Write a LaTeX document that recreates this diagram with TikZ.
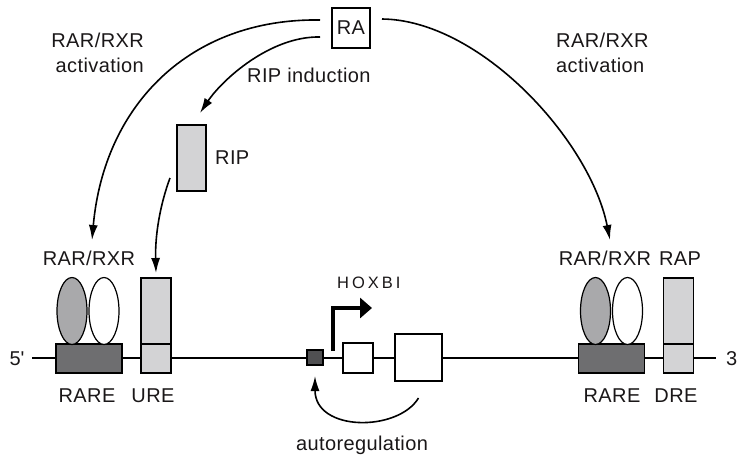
\documentclass[tikz,border=0pt]{standalone}
\usepackage{fontspec}
\setmainfont[LetterSpace=2]{Liberation Sans}
\newfontfamily\hoxfont[LetterSpace=18]{Liberation Sans}
\usetikzlibrary{arrows.meta,shapes.geometric}
\definecolor{txtgray}{HTML}{1A1718}
\definecolor{raregray}{HTML}{6E6E70}
\definecolor{rargray}{HTML}{A9A9AB}
\definecolor{sitegray}{HTML}{D3D3D5}
\definecolor{regdark}{HTML}{505052}

\begin{document}
\begin{tikzpicture}[
  x=1pt,y=-1pt,>={Latex[length=15pt,width=9pt]},
  every node/.style={font=\fontsize{20}{25}\selectfont,text=txtgray},
  flow/.style={->,line width=1.6pt},
  dna/.style={line width=2.6pt},
  part/.style={draw,line width=1.2pt,inner sep=0pt,outer sep=0pt},
  rare/.style={part,fill=raregray,minimum width=66pt,minimum height=29pt},
  rar/.style={part,ellipse,fill=rargray,minimum width=30pt,minimum height=67pt},
  rxr/.style={rar,fill=white},
  siteup/.style={part,fill=sitegray,minimum width=30pt,minimum height=66pt},
  sitelow/.style={part,fill=sitegray,minimum width=30pt,minimum height=29pt},
  exon/.style={part,fill=white},
  lbl/.style={inner sep=0pt,anchor=base}]
\useasboundingbox (0,0) rectangle (738,455);
% DNA strand
\coordinate (dnaL) at (32,358);
\coordinate (dnaR) at (716,358);
\draw[dna] (dnaL)--(dnaR);
\node[lbl] (five) at (17,365) {5\textquotesingle};
\node[lbl,anchor=base west] (three) at (726,365) {3};
% RA and RIP
\node[part,minimum width=38pt,minimum height=40pt] (RA) at (351,28) {RA};
\node[part,fill=sitegray,minimum width=29pt,minimum height=66pt] (rip) at (191.5,158) {};
\node[lbl,anchor=base west] (ripl) at (215,164) {RIP};
% upstream elements
\node[rare] (rareL) at (89,358.5) {};
\node[rar] (rarL) at (72,311) {};
\node[rxr] (rxrL) at (104,311) {};
\node[siteup] (ureU) at (156,311) {};
\node[sitelow] (ureL) at (156,358.5) {};
\node[lbl] (lrxr) at (89,265) {RAR/RXR};
\node[lbl] (lrare) at (87,402) {RARE};
\node[lbl] (ure) at (153,402) {URE};
% gene
\node[part,fill=regdark,minimum width=16pt,minimum height=15pt] (reg) at (315,357.5) {};
\node[exon,minimum width=30pt,minimum height=30pt] (exon1) at (358,358) {};
\node[exon,minimum width=47pt,minimum height=47pt] (exon2) at (418.5,357.5) {};
\node[lbl,anchor=base west,font=\hoxfont\fontsize{16.5}{18}\selectfont] (hox) at (337,288) {HOXBI};
\node[lbl] (auto) at (362,450) {autoregulation};
% downstream elements
\node[rare] (rareR) at (611.5,358.5) {};
\node[rar] (rarR) at (595.5,311) {};
\node[rxr] (rxrR) at (627.5,311) {};
\node[siteup] (dreU) at (678.5,311) {};
\node[sitelow] (dreL) at (678.5,358.5) {};
\node[lbl] (rrxr) at (605,265) {RAR/RXR};
\node[lbl] (rap) at (680,265) {RAP};
\node[lbl] (rrare) at (612,402) {RARE};
\node[lbl] (dre) at (676,402) {DRE};
% arc labels
\node[lbl,anchor=base east,align=right] (lact) at (144,72) {RAR/RXR\\activation};
\node[lbl,anchor=base west,align=left] (ract) at (556,72) {RAR/RXR\\activation};
\node[lbl,anchor=base west] (ripind) at (247,82) {RIP induction};
% connectors
\coordinate (raL) at ([shift={(-12pt,8pt)}]RA.west);
\coordinate (raI) at ([shift={(-12pt,-9pt)}]RA.west);
\coordinate (raR) at ([shift={(12pt,9pt)}]RA.east);
\coordinate (ripout) at ([shift={(-7pt,13pt)}]rip.south west);
\coordinate (exonout) at ([yshift=-17pt]exon2.south);
\coordinate (tss) at (333,351);
\coordinate (hoxtip) at (372,308);
\draw[flow] (raL) .. controls (190,18) and (104,105) .. ([shift={(3pt,25pt)}]lrxr.base);
\draw[flow] (raR) .. controls (480,20) and (590,140) .. ([shift={(5pt,25pt)}]rrxr.base);
\draw[flow] (raI) .. controls (270,36) and (222,80) .. ([shift={(8.5pt,12pt)}]rip.north);
\draw[flow] (ripout) .. controls (160,205) and (155,235) .. ([yshift=5pt]ureU.north);
\draw[flow] (exonout) .. controls (398,432) and (315,432) .. ([yshift=-11pt]reg.south);
\draw[line width=4pt,-{Triangle[width=20pt,length=12pt]}] (tss)|-(hoxtip);
\end{tikzpicture}
\end{document}
